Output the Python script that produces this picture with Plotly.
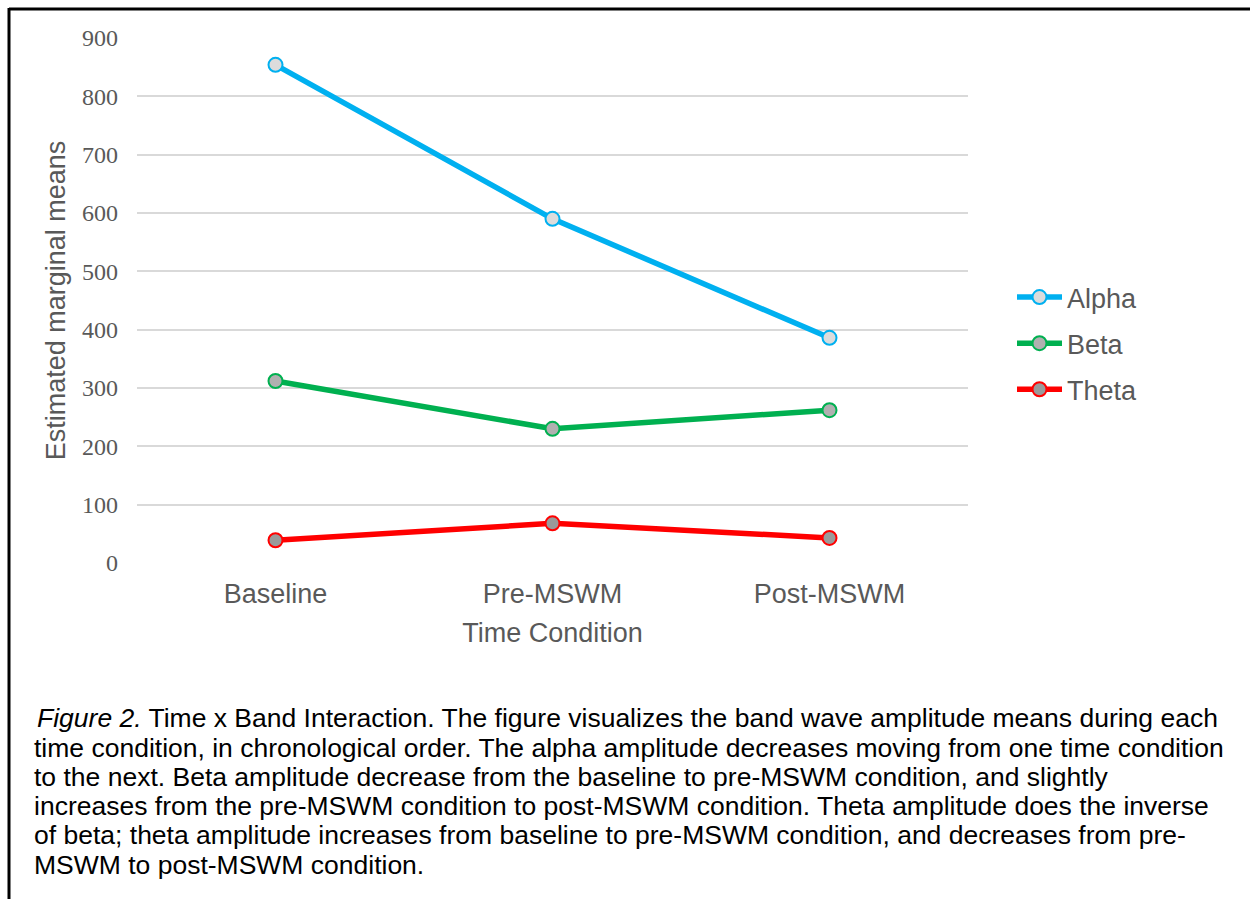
import plotly.graph_objects as go

# ---- data ----
conditions = ["Baseline", "Pre-MSWM", "Post-MSWM"]
alpha = [854, 590, 386]
beta = [312, 230, 262]
theta = [39, 68, 43]
y_ticks = [0, 100, 200, 300, 400, 500, 600, 700, 800, 900]

caption_lines = [
    "<i>Figure 2.</i> Time x Band Interaction. The figure visualizes the band wave amplitude means during each",
    "time condition, in chronological order. The alpha amplitude decreases moving from one time condition",
    "to the next. Beta amplitude decrease from the baseline to pre-MSWM condition, and slightly",
    "increases from the pre-MSWM condition to post-MSWM condition. Theta amplitude does the inverse",
    "of beta; theta amplitude increases from baseline to pre-MSWM condition, and decreases from pre-",
    "MSWM to post-MSWM condition.",
]

# ---- layout geometry (pixels) ----
W, H = 1250, 899
L, R, T, B = 137, 282, 38, 336
PW, PH = W - L - R, H - T - B


def px(xp):
    return (xp - L) / PW


def py(yp):
    return (H - B - yp) / PH


SANS = "Liberation Sans, Arial, sans-serif"
SERIF = "Liberation Serif, Times New Roman, serif"
GREY = "#595959"

series = [
    ("Alpha", alpha, "#00B0F0", "#DCDCDC"),
    ("Beta", beta, "#00B050", "#B0B0B0"),
    ("Theta", theta, "#FF0000", "#9A9A9A"),
]

fig = go.Figure()
for name, vals, col, fill in series:
    fig.add_trace(go.Scatter(
        x=conditions, y=vals, name=name, mode="lines+markers",
        line=dict(color=col, width=5.5),
        marker=dict(symbol="circle", size=14, color=fill, line=dict(color=col, width=2)),
        legendgroup=name,
    ))

annotations = []
ys = [718, 748, 777, 806, 835, 865]
for i, (line, yy) in enumerate(zip(caption_lines, ys)):
    annotations.append(dict(
        text=line, xref="paper", yref="paper", x=px(35 if i == 0 else 32), y=py(yy),
        xanchor="left", yanchor="middle", showarrow=False,
        font=dict(family=SANS, size=26.5, color="#000000"),
    ))

shapes = [
    dict(type="line", xref="paper", yref="paper", x0=px(9), x1=px(1252), y0=py(9), y1=py(9),
         line=dict(color="#000000", width=3)),
    dict(type="line", xref="paper", yref="paper", x0=px(9), x1=px(9), y0=py(8), y1=py(902),
         line=dict(color="#000000", width=3)),
]

fig.update_layout(
    width=W, height=H,
    margin=dict(l=L, r=R, t=T, b=B, pad=0),
    paper_bgcolor="white", plot_bgcolor="white",
    showlegend=True,
    legend=dict(
        x=px(1012), y=py(273), xanchor="left", yanchor="top",
        font=dict(family=SANS, size=27, color=GREY),
        tracegroupgap=8, traceorder="grouped",
        itemwidth=45,
        bgcolor="rgba(0,0,0,0)",
    ),
    xaxis=dict(
        range=[-0.5, 2.5], showgrid=False, zeroline=False, showline=False,
        tickfont=dict(family=SANS, size=27, color=GREY),
        ticklabelstandoff=12,
        title=dict(text="Time Condition", font=dict(family=SANS, size=27, color=GREY), standoff=15),
    ),
    yaxis=dict(
        range=[0, 900], tickvals=y_ticks, showgrid=True, gridcolor="#D9D9D9", gridwidth=1.5,
        zeroline=False, showline=False,
        tickfont=dict(family=SERIF, size=24, color=GREY),
        ticklabelstandoff=18,
        title=dict(text="Estimated marginal means", font=dict(family=SANS, size=27, color=GREY), standoff=8),
    ),
    annotations=annotations,
    shapes=shapes,
)

fig.write_html(
    "out.html",
    config={"displayModeBar": False},
    post_script="document.body.style.margin='0';document.body.style.overflow='hidden';",
)
